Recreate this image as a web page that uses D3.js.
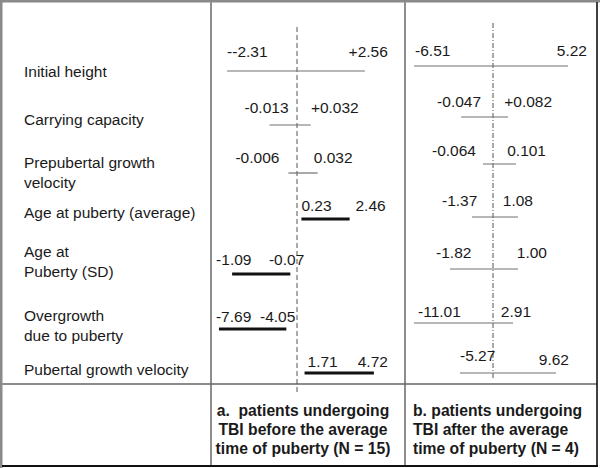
<!DOCTYPE html>
<html>
<head>
<meta charset="utf-8">
<script src="https://cdn.jsdelivr.net/npm/d3@7"></script>
<style>
  html, body { margin: 0; padding: 0; background: #fff; }
  svg { display: block; }
  text { font-family: "Liberation Sans", Arial, sans-serif; fill: #1a1a1a; }
</style>
</head>
<body>
<svg id="chart" width="600" height="468"></svg>
<script>
// ---------------- DATA ----------------
const categories = [
  "Initial height",
  "Carrying capacity",
  "Prepubertal growth\nvelocity",
  "Age at puberty (average)",
  "Age at\nPuberty (SD)",
  "Overgrowth\ndue to puberty",
  "Pubertal growth velocity"
];

// Panel a: patients undergoing TBI before the average time of puberty
const lowerA = [-2.31, -0.013, -0.006, 0.23, -1.09, -7.69, 1.71];
const upperA = [2.56, 0.032, 0.032, 2.46, -0.07, -4.05, 4.72];
const lowerLabelsA = ["--2.31", "-0.013", "-0.006", "0.23", "-1.09", "-7.69", "1.71"];
const upperLabelsA = ["+2.56", "+0.032", "0.032", "2.46", "-0.07", "-4.05", "4.72"];
const significantA = [false, false, false, true, true, true, true];
// per-row display domains (each row drawn on its own scale)
const domainsA = [[-2.88, 3.98], [-0.077, 0.135], [-0.107, 0.146], [-3.95, 5.02],
                  [-1.46, 1.94], [-8.12, 2.36], [-2.35, 6.07]];

// Panel b: patients undergoing TBI after the average time of puberty
const lowerB = [-6.51, -0.047, -0.064, -1.37, -1.82, -11.01, -5.27];
const upperB = [5.22, 0.082, 0.101, 1.08, 1.00, 2.91, 9.62];
const lowerLabelsB = ["-6.51", "-0.047", "-0.064", "-1.37", "-1.82", "-11.01", "-5.27"];
const upperLabelsB = ["5.22", "+0.082", "0.101", "1.08", "1.00", "2.91", "9.62"];
const significantB = [false, false, false, false, false, false, false];
const domainsB = [[-7.2, 7.43], [-0.201, 0.326], [-0.454, 0.506], [-4.94, 5.29],
                  [-3.69, 4.28], [-12.28, 14.72], [-13.8, 15.98]];

const captionA = ["a.  patients undergoing", "TBI before the average", "time of puberty (N = 15)"];
const captionB = ["b. patients undergoing", "TBI after the average", "time of puberty (N = 4)"];

// ---------------- LAYOUT ----------------
const W = 600, H = 468;
const colLabelRight = 211, colMid = 405, colRight = 597;
const rowDivider = 384, bottomEdge = 466;
const fontSize = 15.5;

const layout = {
  rowLabelDy: [7, 4.5, -3, -3.5, -15, -1.5, 2],
  segDyA: [1, 4.5, 2, -2.5, 2, 6.5, 0],
  segDyB: [-4, -3.5, -7, -4.5, -3, 0.5, 0],
  labDyA: [-14, -12, -10, -8, -9, -7, -6],
  labDyLoB: [-10, -10, -8, -11, -11, -6, -12],
  labDyHiB: [-10, -10, -8, -11, -11, -6, -8],
  loDxA: [0, -25, -53, 0, -16, -3, 3],
  hiDxA: [23, 48, 35, 36, 14, 9, 14],
  loDxB: [1, -24, -51, -30, -14, 4, 0],
  hiDxB: [19, 44, 30, 15, 29, 18, 13]
};

const svg = d3.select("#chart");

const yRow = d3.scalePoint().domain(categories).range([70, 373]);

// ---------------- FRAME ----------------
const frame = svg.append("g");
frame.append("line").attr("x1", colLabelRight).attr("x2", colLabelRight).attr("y1", 0).attr("y2", bottomEdge)
  .attr("stroke", "#444").attr("stroke-width", 1.2);
frame.append("line").attr("x1", colMid).attr("x2", colMid).attr("y1", 0).attr("y2", bottomEdge)
  .attr("stroke", "#444").attr("stroke-width", 1.2);
frame.append("line").attr("x1", 0).attr("x2", colRight).attr("y1", rowDivider).attr("y2", rowDivider)
  .attr("stroke", "#666").attr("stroke-width", 1.4);
// outer border
frame.append("rect").attr("x", 0).attr("y", 0).attr("width", W).attr("height", 2.5).attr("fill", "#8a8a8a");
frame.append("rect").attr("x", 0).attr("y", 0).attr("width", 2.5).attr("height", H).attr("fill", "#8a8a8a");
frame.append("line").attr("x1", colRight).attr("x2", colRight).attr("y1", 2).attr("y2", bottomEdge + 1)
  .attr("stroke", "#111").attr("stroke-width", 1.6);
frame.append("line").attr("x1", 2).attr("x2", colRight + 1).attr("y1", bottomEdge).attr("y2", bottomEdge)
  .attr("stroke", "#111").attr("stroke-width", 2.2);

// ---------------- ROW LABELS ----------------
const rowLabels = svg.append("g");
categories.forEach((c, i) => {
  const t = rowLabels.append("text")
    .attr("x", 24)
    .attr("y", yRow(c) + layout.rowLabelDy[i])
    .attr("font-size", fontSize);
  c.split("\n").forEach((ln, j) => {
    t.append("tspan").attr("x", 24).attr("dy", j === 0 ? 0 : 19.5).text(ln);
  });
});

// ---------------- PANELS ----------------
function drawPanel(opts) {
  const g = svg.append("g");
  // centre reference line
  g.append("line")
    .attr("x1", opts.refX).attr("x2", opts.refX)
    .attr("y1", opts.refY1).attr("y2", opts.refY2)
    .attr("stroke", "#555").attr("stroke-width", 1)
    .attr("stroke-dasharray", opts.dash);

  categories.forEach((c, i) => {
    const x = d3.scaleLinear().domain(opts.domains[i]).range(opts.range);
    const y = yRow(c) + opts.segDy[i];
    const sig = opts.sig[i];
    g.append("line")
      .attr("x1", x(opts.lower[i])).attr("x2", x(opts.upper[i]))
      .attr("y1", y).attr("y2", y)
      .attr("stroke", sig ? "#111" : "#707070")
      .attr("stroke-width", sig ? 3.2 : 1.2);
    g.append("text")
      .attr("x", x(opts.lower[i]) + opts.loDx[i])
      .attr("y", y + opts.labDyLo[i])
      .attr("font-size", fontSize)
      .attr("text-anchor", "start")
      .text(opts.lowerLabels[i]);
    g.append("text")
      .attr("x", x(opts.upper[i]) + opts.hiDx[i])
      .attr("y", y + opts.labDyHi[i])
      .attr("font-size", fontSize)
      .attr("text-anchor", "end")
      .text(opts.upperLabels[i]);
  });

  const cap = g.append("text")
    .attr("font-size", 15.7)
    .attr("font-weight", "bold")
    .attr("text-anchor", opts.capAnchor)
    .attr("xml:space", "preserve")
    .style("white-space", "pre");
  opts.caption.forEach((ln, j) => {
    cap.append("tspan").attr("x", opts.capX).attr("y", 416 + j * 19).text(ln);
  });
}

drawPanel({
  range: [colLabelRight, colMid], domains: domainsA,
  lower: lowerA, upper: upperA, lowerLabels: lowerLabelsA, upperLabels: upperLabelsA,
  sig: significantA, segDy: layout.segDyA, labDyLo: layout.labDyA, labDyHi: layout.labDyA,
  loDx: layout.loDxA, hiDx: layout.hiDxA,
  refX: 297, refY1: 27, refY2: 392, dash: "5,3",
  caption: captionA, capX: 303, capAnchor: "middle"
});

drawPanel({
  range: [colMid, colRight], domains: domainsB,
  lower: lowerB, upper: upperB, lowerLabels: lowerLabelsB, upperLabels: upperLabelsB,
  sig: significantB, segDy: layout.segDyB, labDyLo: layout.labDyLoB, labDyHi: layout.labDyHiB,
  loDx: layout.loDxB, hiDx: layout.hiDxB,
  refX: 493, refY1: 23, refY2: 378, dash: "5,2,1,2",
  caption: captionB, capX: 413, capAnchor: "start"
});
</script>
</body>
</html>
